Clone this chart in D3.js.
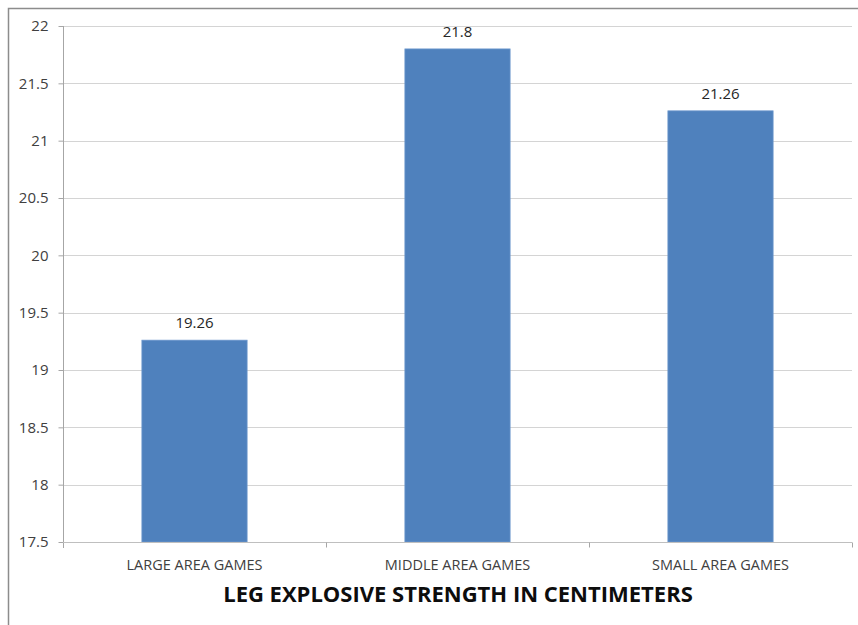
<!DOCTYPE html>
<html>
<head>
<meta charset="utf-8">
<script src="https://cdn.jsdelivr.net/npm/d3@7"></script>
<style>
  html, body { margin: 0; padding: 0; background: #fff; }
  svg { display: block; }
  text { font-family: "Open Sans", sans-serif; }
</style>
</head>
<body>
<script>
// Leg explosive strength (cm) by game type
const categories = ["LARGE AREA GAMES", "MIDDLE AREA GAMES", "SMALL AREA GAMES"];
const values = [19.26, 21.8, 21.26];
const valueLabels = ["19.26", "21.8", "21.26"];
const yTicks = [17.5, 18, 18.5, 19, 19.5, 20, 20.5, 21, 21.5, 22];
const title = "LEG EXPLOSIVE STRENGTH IN CENTIMETERS";

const W = 858, H = 625;
const plot = { left: 63, right: 852, top: 26, bottom: 542 };

const svg = d3.select("body").append("svg")
  .attr("width", W).attr("height", H);

// chart frame
svg.append("rect")
  .attr("x", 8.5).attr("y", 8.5)
  .attr("width", W + 20).attr("height", H + 20)
  .attr("fill", "#fff").attr("stroke", "#8c8c8c").attr("stroke-width", 1.5);

const y = d3.scaleLinear().domain([17.5, 22]).range([plot.bottom, plot.top]);
const x = d3.scaleBand().domain(categories)
  .range([plot.left, plot.right])
  .paddingInner(0.6).paddingOuter(0.3);

// horizontal gridlines
svg.append("g")
  .selectAll("line").data(yTicks).join("line")
  .attr("x1", plot.left).attr("x2", plot.right)
  .attr("y1", d => Math.round(y(d)) + 0.5).attr("y2", d => Math.round(y(d)) + 0.5)
  .attr("stroke", "#d4d4d4").attr("stroke-width", 1.2);

// bars
svg.append("g")
  .selectAll("rect").data(values).join("rect")
  .attr("x", (d, i) => x(categories[i]))
  .attr("width", x.bandwidth())
  .attr("y", d => y(d))
  .attr("height", d => y(17.5) - y(d))
  .attr("fill", "#4f81bd")
  .attr("stroke", "#6b96cc").attr("stroke-width", 0.8);

// value labels
svg.append("g")
  .selectAll("text").data(values).join("text")
  .attr("x", (d, i) => x(categories[i]) + x.bandwidth() / 2)
  .attr("y", d => y(d) - 12)
  .attr("text-anchor", "middle")
  .attr("font-size", 15)
  .attr("fill", "#262626")
  .text((d, i) => valueLabels[i]);

// y axis
const yAxis = d3.axisLeft(y).tickValues(yTicks).tickSize(5).tickPadding(10)
  .tickFormat(d => String(d));
const gy = svg.append("g")
  .attr("transform", `translate(${plot.left + 0.5},0)`)
  .call(yAxis);
gy.select(".domain").attr("stroke", "#a6a6a6")
  .attr("d", `M0,${plot.top}V${plot.bottom + 6}`);
gy.selectAll(".tick line").attr("stroke", "#a6a6a6");
gy.selectAll(".tick text")
  .attr("font-size", 15).attr("fill", "#404040")
  .style("font-family", "'Open Sans', sans-serif");

// x axis baseline with category boundary ticks
const gx = svg.append("g").attr("transform", `translate(0,${plot.bottom + 0.5})`);
gx.append("line")
  .attr("x1", plot.left).attr("x2", plot.right)
  .attr("stroke", "#bfbfbf").attr("stroke-width", 1.2);
const bounds = categories.map(c => x(c) + x.bandwidth() + x.step() * 0.3);
gx.selectAll(".bt").data(bounds).join("line")
  .attr("class", "bt")
  .attr("x1", d => Math.round(d) + 0.5).attr("x2", d => Math.round(d) + 0.5)
  .attr("y1", 0).attr("y2", 5)
  .attr("stroke", "#a6a6a6");
gx.selectAll(".cl").data(categories).join("text")
  .attr("class", "cl")
  .attr("x", d => x(d) + x.bandwidth() / 2)
  .attr("y", 27.5)
  .attr("text-anchor", "middle")
  .attr("font-size", 14.5)
  .attr("fill", "#404040")
  .text(d => d);

// axis title
svg.append("text")
  .attr("x", 458).attr("y", 602)
  .attr("text-anchor", "middle")
  .attr("font-size", 22)
  .attr("font-weight", "bold")
  .attr("fill", "#0d0d0d")
  .text(title);
</script>
</body>
</html>
